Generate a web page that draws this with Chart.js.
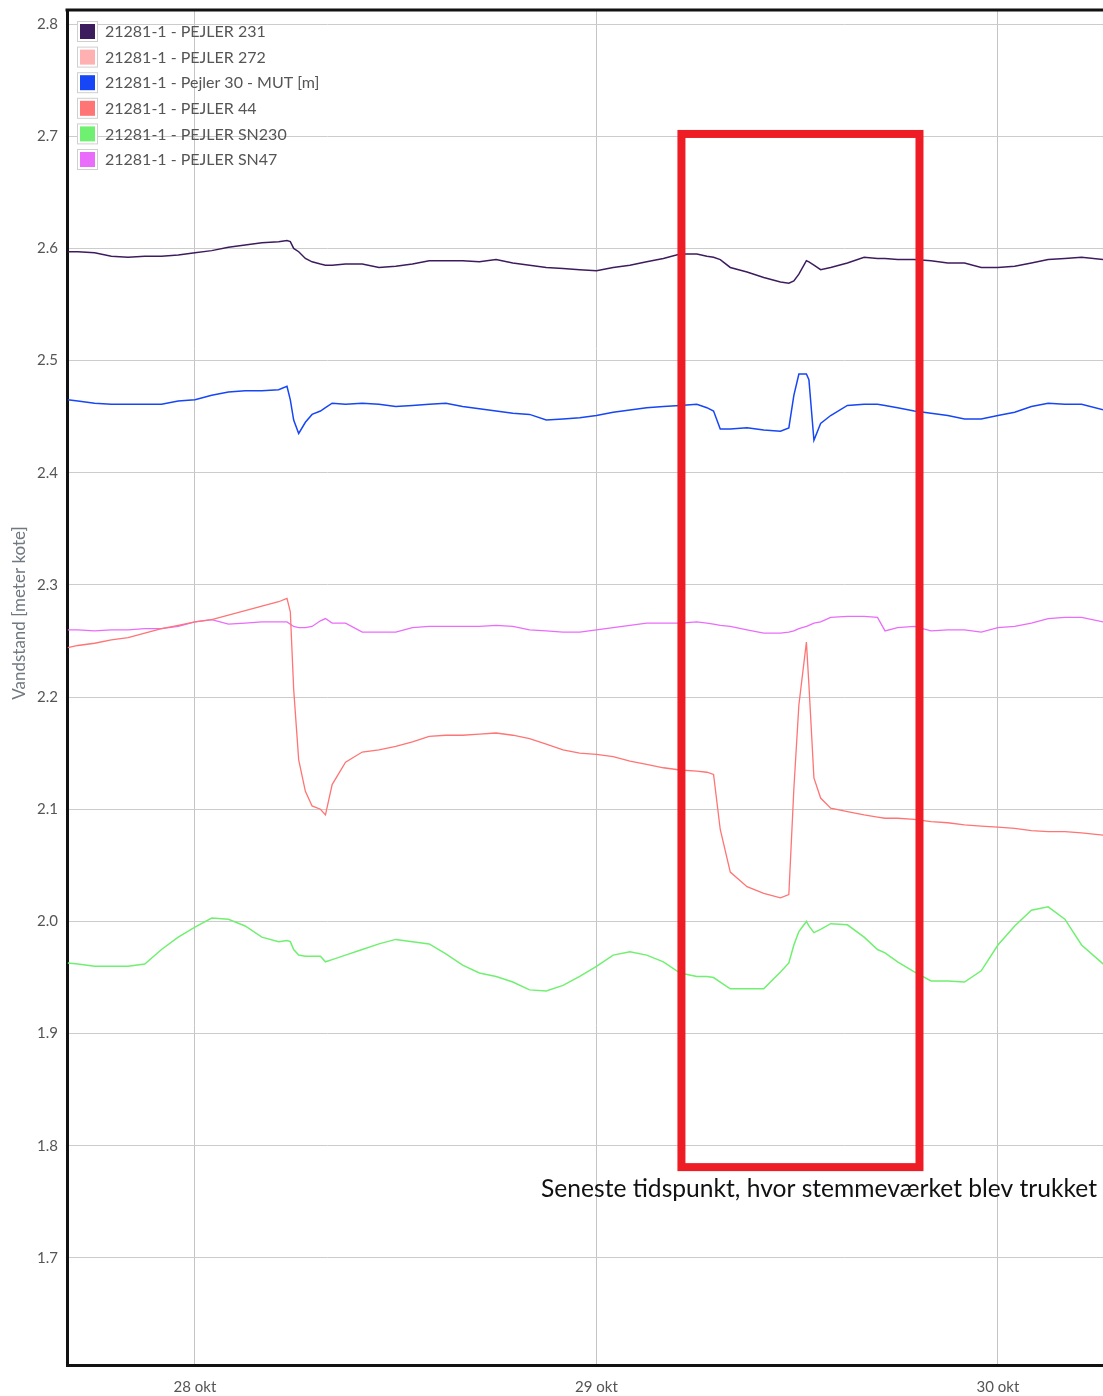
<!DOCTYPE html>
<html>
<head>
<meta charset="utf-8">
<style>
  html, body { margin: 0; padding: 0; background: #fff; }
  #wrap { position: relative; width: 1103px; height: 1396px; }
</style>
<script src="https://cdn.jsdelivr.net/npm/chart.js@4.4.1/dist/chart.umd.min.js"></script>
</head>
<body>
<div id="wrap"><canvas id="graf"></canvas></div>
<script>
// timer efter 28 okt 00:00
const hours = [-7.6, -7, -6, -5, -4, -3, -2, -1, 0, 1, 2, 3, 4, 5, 5.5, 5.7, 5.9, 6.2, 6.6, 7, 7.5, 7.8, 8.2, 9, 10, 11, 12, 13, 14, 15, 16, 17, 18, 19, 20, 21, 22, 23, 24, 25, 26, 27, 28, 29, 30, 30.6, 31, 31.4, 32, 33, 34, 35, 35.5, 35.8, 36.1, 36.55, 36.7, 37, 37.4, 38, 39, 40, 40.8, 41.25, 42, 43, 44, 45, 46, 47, 48, 49, 50, 51, 52, 53, 54.3];

const pejler231 = [2.597, 2.597, 2.596, 2.593, 2.592, 2.593, 2.593, 2.594, 2.596, 2.598, 2.601, 2.603, 2.605, 2.606, 2.607, 2.606, 2.600, 2.597, 2.591, 2.588, 2.586, 2.585, 2.585, 2.586, 2.586, 2.583, 2.584, 2.586, 2.589, 2.589, 2.589, 2.588, 2.590, 2.587, 2.585, 2.583, 2.582, 2.581, 2.580, 2.583, 2.585, 2.588, 2.591, 2.595, 2.595, 2.593, 2.592, 2.590, 2.583, 2.579, 2.574, 2.570, 2.569, 2.571, 2.577, 2.589, 2.588, 2.585, 2.581, 2.583, 2.587, 2.592, 2.591, 2.591, 2.590, 2.590, 2.589, 2.587, 2.587, 2.583, 2.583, 2.584, 2.587, 2.590, 2.591, 2.592, 2.590];
const pejler272 = []; // ingen data i perioden
const pejler30 = [2.465, 2.464, 2.462, 2.461, 2.461, 2.461, 2.461, 2.464, 2.465, 2.469, 2.472, 2.473, 2.473, 2.474, 2.477, 2.465, 2.447, 2.435, 2.445, 2.452, 2.455, 2.458, 2.462, 2.461, 2.462, 2.461, 2.459, 2.460, 2.461, 2.462, 2.459, 2.457, 2.455, 2.453, 2.452, 2.447, 2.448, 2.449, 2.451, 2.454, 2.456, 2.458, 2.459, 2.460, 2.461, 2.458, 2.455, 2.439, 2.439, 2.440, 2.438, 2.437, 2.440, 2.469, 2.488, 2.488, 2.483, 2.429, 2.444, 2.451, 2.460, 2.461, 2.461, 2.460, 2.458, 2.455, 2.453, 2.451, 2.448, 2.448, 2.451, 2.454, 2.459, 2.462, 2.461, 2.461, 2.456];
const pejler44 = [2.244, 2.246, 2.248, 2.251, 2.253, 2.257, 2.261, 2.264, 2.267, 2.269, 2.273, 2.277, 2.281, 2.285, 2.288, 2.276, 2.207, 2.144, 2.116, 2.103, 2.100, 2.095, 2.122, 2.142, 2.151, 2.153, 2.156, 2.160, 2.165, 2.166, 2.166, 2.167, 2.168, 2.166, 2.163, 2.158, 2.153, 2.150, 2.149, 2.147, 2.143, 2.140, 2.137, 2.135, 2.134, 2.133, 2.131, 2.082, 2.044, 2.031, 2.025, 2.021, 2.024, 2.118, 2.193, 2.249, 2.211, 2.128, 2.110, 2.101, 2.098, 2.095, 2.093, 2.092, 2.092, 2.091, 2.089, 2.088, 2.086, 2.085, 2.084, 2.083, 2.081, 2.080, 2.080, 2.079, 2.077];
const pejlerSN230 = [1.963, 1.962, 1.960, 1.960, 1.960, 1.962, 1.975, 1.986, 1.995, 2.003, 2.002, 1.996, 1.986, 1.982, 1.983, 1.982, 1.975, 1.970, 1.969, 1.969, 1.969, 1.964, 1.966, 1.970, 1.975, 1.980, 1.984, 1.982, 1.980, 1.971, 1.961, 1.954, 1.951, 1.946, 1.939, 1.938, 1.943, 1.951, 1.960, 1.970, 1.973, 1.970, 1.964, 1.954, 1.951, 1.951, 1.950, 1.946, 1.940, 1.940, 1.940, 1.955, 1.963, 1.979, 1.991, 2.000, 1.996, 1.990, 1.993, 1.998, 1.997, 1.986, 1.975, 1.972, 1.964, 1.955, 1.947, 1.947, 1.946, 1.956, 1.979, 1.996, 2.010, 2.013, 2.002, 1.979, 1.962];
const pejlerSN47 = [2.260, 2.260, 2.259, 2.260, 2.260, 2.261, 2.261, 2.263, 2.267, 2.269, 2.265, 2.266, 2.267, 2.267, 2.267, 2.265, 2.263, 2.262, 2.262, 2.263, 2.268, 2.270, 2.266, 2.266, 2.258, 2.258, 2.258, 2.262, 2.263, 2.263, 2.263, 2.263, 2.264, 2.263, 2.260, 2.259, 2.258, 2.258, 2.260, 2.262, 2.264, 2.266, 2.266, 2.266, 2.267, 2.266, 2.265, 2.264, 2.263, 2.260, 2.257, 2.257, 2.258, 2.259, 2.261, 2.263, 2.264, 2.266, 2.267, 2.271, 2.272, 2.272, 2.271, 2.259, 2.262, 2.263, 2.259, 2.260, 2.260, 2.258, 2.262, 2.263, 2.266, 2.270, 2.271, 2.271, 2.267];

const navne = ['21281-1 - PEJLER 231', '21281-1 - PEJLER 272', '21281-1 - Pejler 30 - MUT [m]', '21281-1 - PEJLER 44', '21281-1 - PEJLER SN230', '21281-1 - PEJLER SN47'];
const serier = [pejler231, pejler272, pejler30, pejler44, pejlerSN230, pejlerSN47];
const farver = ['#3d1c5e', '#ffb0b0', '#1646f5', '#ff7474', '#70f070', '#ea6cfa'];
const bredder = [1.5, 1.3, 1.5, 1.3, 1.5, 1.3];

const xTickHours = [0, 24, 48];
const xTickLabels = ['28 okt', '29 okt', '30 okt'];
const yTicks = [1.7, 1.8, 1.9, 2.0, 2.1, 2.2, 2.3, 2.4, 2.5, 2.6, 2.7, 2.8];

// markering: stemmeværket trukket
const markTid = [29.08, 43.31];
const markNiveau = [1.781, 2.702];
const markTekst = 'Seneste tidspunkt, hvor stemmeværket blev trukket';

const datasets = serier.map((vals, i) => ({
    label: navne[i],
    data: vals.map((v, j) => ({ x: hours[j], y: v })),
    borderColor: farver[i],
    backgroundColor: farver[i],
    borderWidth: bredder[i],
    pointRadius: 0,
    tension: 0,
    fill: false
}));

const tegnOverlay = {
    id: 'tegnOverlay',
    afterDraw(chart) {
        const { ctx, chartArea: a, scales } = chart;
        ctx.save();

        // top kant
        ctx.strokeStyle = '#111';
        ctx.lineWidth = 3;
        ctx.beginPath();
        ctx.moveTo(a.left - 1.5, a.top);
        ctx.lineTo(a.right, a.top);
        ctx.stroke();

        // legende
        ctx.font = '16px Lato';
        ctx.textBaseline = 'middle';
        ctx.textAlign = 'left';
        navne.forEach((navn, i) => {
            const cy = 31 + i * 25.6;
            ctx.fillStyle = '#fff';
            ctx.fillRect(77, cy - 10, 21, 21);
            ctx.strokeStyle = '#cfcfcf';
            ctx.lineWidth = 1;
            ctx.strokeRect(77.5, cy - 9.5, 20, 20);
            ctx.fillStyle = farver[i];
            ctx.fillRect(80, cy - 7, 15, 15);
            ctx.fillStyle = '#555';
            ctx.fillText(navn, 105, cy + 1);
        });

        // y titel
        ctx.save();
        ctx.translate(20, 613);
        ctx.rotate(-Math.PI / 2);
        ctx.textAlign = 'center';
        ctx.fillStyle = '#707880';
        ctx.font = '17px Lato';
        ctx.fillText('Vandstand [meter kote]', 0, 0);
        ctx.restore();

        // rød boks
        const x0 = scales.x.getPixelForValue(markTid[0]);
        const x1 = scales.x.getPixelForValue(markTid[1]);
        const y0 = scales.y.getPixelForValue(markNiveau[1]);
        const y1 = scales.y.getPixelForValue(markNiveau[0]);
        ctx.strokeStyle = '#ee1c25';
        ctx.lineWidth = 8;
        ctx.strokeRect(x0, y0, x1 - x0, y1 - y0);

        ctx.fillStyle = '#111';
        ctx.font = '24.6px Lato';
        ctx.textAlign = 'right';
        ctx.fillText(markTekst, a.right - 6, y1 + 22);

        ctx.restore();
    }
};

Chart.defaults.font.family = 'Lato';
Chart.defaults.font.size = 15;
Chart.defaults.color = '#555';

new Chart(document.getElementById('graf'), {
    type: 'line',
    data: { datasets: datasets },
    options: {
        responsive: true,
        maintainAspectRatio: false,
        animation: false,
        layout: { padding: { top: 10, right: 0, left: 0, bottom: 0 } },
        plugins: {
            legend: { display: false },
            tooltip: { enabled: false }
        },
        scales: {
            x: {
                type: 'linear',
                min: -7.65,
                max: 54.28,
                afterBuildTicks: s => { s.ticks = xTickHours.map(v => ({ value: v })); },
                afterFit: s => { s.height = 31; s.paddingLeft = 0; s.paddingRight = 0; },
                ticks: {
                    autoSkip: false,
                    maxRotation: 0,
                    padding: 13,
                    callback: v => xTickLabels[xTickHours.indexOf(v)]
                },
                grid: { color: '#c4c4c4', lineWidth: 1, drawTicks: false },
                border: { display: true, color: '#111', width: 3 }
            },
            y: {
                min: 1.6046,
                max: 2.8125,
                afterBuildTicks: s => { s.ticks = yTicks.map(v => ({ value: v })); },
                afterFit: s => { s.width = 67; s.paddingTop = 0; s.paddingBottom = 0; },
                ticks: {
                    autoSkip: false,
                    padding: 9,
                    callback: v => v.toFixed(1)
                },
                grid: { color: '#cccccc', lineWidth: 1, drawTicks: false },
                border: { display: true, color: '#111', width: 3 }
            }
        }
    },
    plugins: [tegnOverlay]
});
</script>
</body>
</html>
